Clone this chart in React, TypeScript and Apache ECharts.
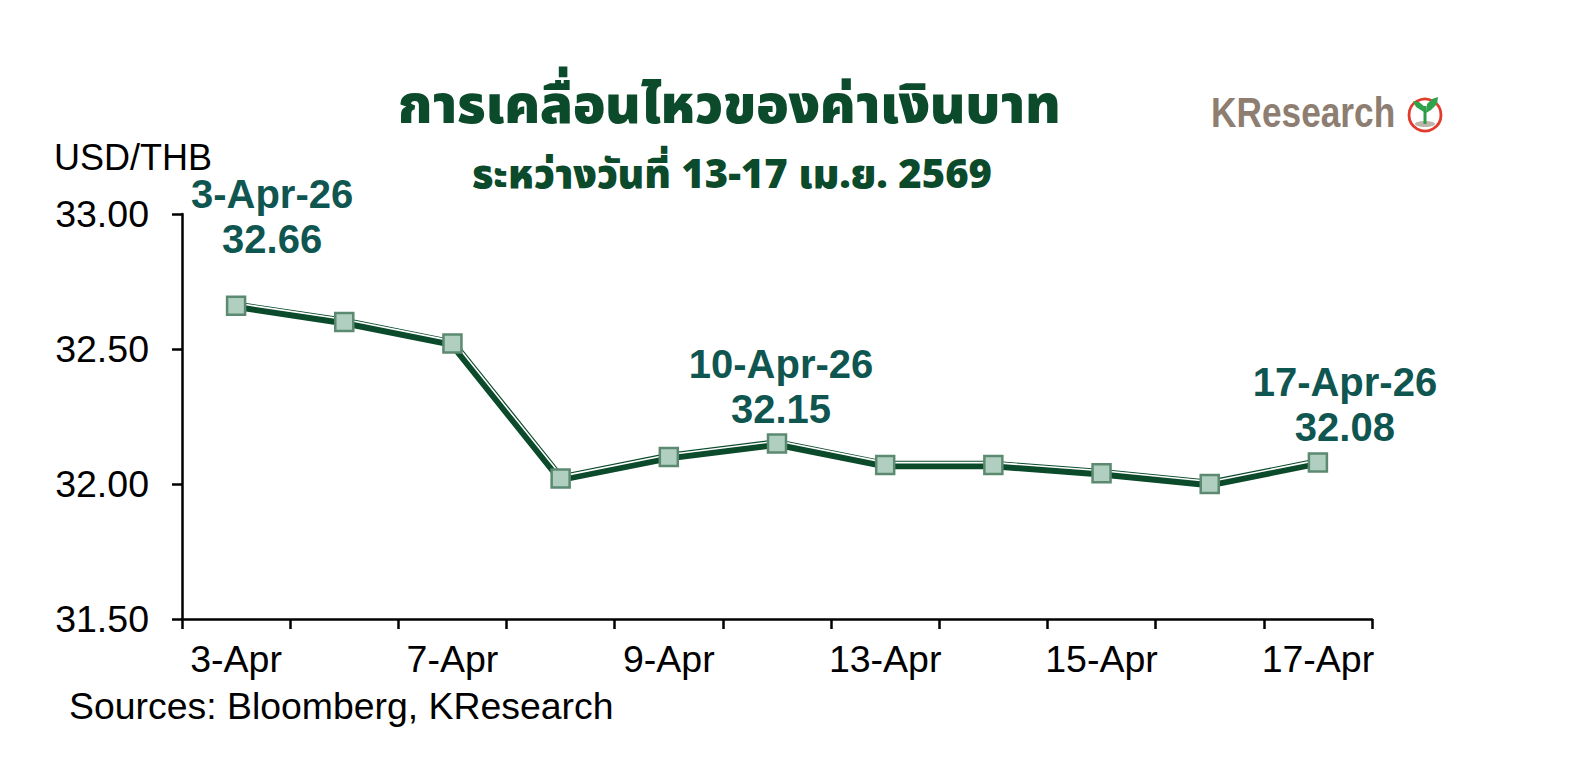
import React, { useEffect, useRef } from "react";
import * as echarts from "echarts";

const categories = ["3-Apr", "6-Apr", "7-Apr", "8-Apr", "9-Apr", "10-Apr", "13-Apr", "14-Apr", "15-Apr", "16-Apr", "17-Apr"];
const values = [32.66, 32.6, 32.52, 32.02, 32.1, 32.15, 32.07, 32.07, 32.04, 32.0, 32.08];
const yMin = 31.5;
const yMax = 33.0;
const yStep = 0.5;
const annotated = [0, 5, 10];
const annotationYear = "26";
const titleText = "การเคลื่อนไหวของค่าเงินบาท";
const subtitleText = "ระหว่างวันที่ 13-17 เม.ย. 2569";
const unitText = "USD/THB";
const sourceText = "Sources: Bloomberg, KResearch";
const brandText = "KResearch";

const DARK = "#0b4a2b";
const TEAL = "#0f5550";
const THAI_FONT = "'Noto Sans Thai', 'Noto Sans Thai UI', 'Noto Sans', Loma, Garuda, sans-serif";
const LATIN_FONT = "Arial, 'Liberation Sans', Helvetica, sans-serif";

const labelOffsets: Record<number, [number, number]> = {
  0: [36, -34],
  5: [4, -2],
  10: [27, -3],
};

export default function App() {
  const ref = useRef<HTMLDivElement>(null);
  useEffect(() => {
    if (!ref.current) return;
    const chart = echarts.init(ref.current, undefined, { renderer: "svg" });
    const markerData = values.map((v, i) => {
      if (!annotated.includes(i)) return v;
      return {
        value: v,
        label: {
          show: true,
          position: "top",
          distance: 0,
          offset: labelOffsets[i],
          formatter: (p: any) => `${p.name}-${annotationYear}\n${Number(p.value).toFixed(2)}`,
          fontFamily: LATIN_FONT,
          fontWeight: "bold",
          fontSize: 40,
          lineHeight: 45,
          color: TEAL,
          align: "center",
        },
      };
    });
    const option: any = {
      animation: false,
      backgroundColor: "#ffffff",
      grid: [
        { left: 182, right: 200, top: 214, bottom: 143, containLabel: false },
        { left: 183, right: 199, top: 211.5, bottom: 145.5, containLabel: false },
      ],
      xAxis: [
        {
          type: "category",
          gridIndex: 0,
          data: categories,
          boundaryGap: true,
          axisLine: { show: true, lineStyle: { color: "#000", width: 2.5 } },
          axisTick: { show: true, interval: 0, length: 10, lineStyle: { color: "#000", width: 2.5 } },
          axisLabel: {
            interval: 1,
            fontSize: 37.5,
            fontFamily: LATIN_FONT,
            color: "#000",
            margin: 21,
          },
          splitLine: { show: false },
        },
        {
          type: "category",
          gridIndex: 1,
          data: categories,
          boundaryGap: true,
          show: false,
        },
      ],
      yAxis: [
        {
          type: "value",
          gridIndex: 0,
          min: yMin,
          max: yMax,
          interval: yStep,
          axisLine: { show: true, lineStyle: { color: "#000", width: 2.5 } },
          axisTick: { show: true, length: 10, lineStyle: { color: "#000", width: 2.5 } },
          axisLabel: {
            fontSize: 37.5,
            fontFamily: LATIN_FONT,
            color: "#000",
            margin: 33,
            formatter: (v: number) => v.toFixed(2),
          },
          splitLine: { show: false },
        },
        {
          type: "value",
          gridIndex: 1,
          min: yMin,
          max: yMax,
          interval: yStep,
          show: false,
        },
      ],
      series: [
        {
          type: "line",
          xAxisIndex: 0,
          yAxisIndex: 0,
          data: values,
          showSymbol: false,
          symbol: "none",
          lineStyle: { color: DARK, width: 8.5, join: "round" },
          z: 2,
        },
        {
          type: "line",
          xAxisIndex: 1,
          yAxisIndex: 1,
          data: values,
          showSymbol: false,
          symbol: "none",
          lineStyle: { color: "#ffffff", width: 1.6 },
          z: 3,
        },
        {
          type: "line",
          xAxisIndex: 0,
          yAxisIndex: 0,
          data: markerData,
          symbol: "rect",
          symbolSize: 18,
          showSymbol: true,
          lineStyle: { width: 0, opacity: 0 },
          itemStyle: { color: "#b1cfc1", borderColor: "#5b8a70", borderWidth: 2.5 },
          z: 4,
        },
      ],
      graphic: [
        {
          type: "text",
          x: 729,
          y: 106,
          style: {
            text: titleText,
            fontFamily: THAI_FONT,
            fontWeight: 900,
            fontSize: 53.5,
            fill: DARK,
            align: "center",
            verticalAlign: "middle",
          },
        },
        {
          type: "text",
          x: 732,
          y: 176,
          style: {
            text: subtitleText,
            fontFamily: THAI_FONT,
            fontWeight: 900,
            fontSize: 40,
            fill: DARK,
            align: "center",
            verticalAlign: "middle",
          },
        },
        {
          type: "text",
          x: 54,
          y: 157,
          style: {
            text: unitText,
            fontFamily: LATIN_FONT,
            fontSize: 36,
            fill: "#000",
            align: "left",
            verticalAlign: "middle",
          },
        },
        {
          type: "text",
          x: 69,
          y: 706,
          style: {
            text: sourceText,
            fontFamily: LATIN_FONT,
            fontSize: 37.4,
            fill: "#000",
            align: "left",
            verticalAlign: "middle",
          },
        },
        {
          type: "text",
          x: 1211,
          y: 112,
          scaleX: 0.84,
          style: {
            text: brandText,
            fontFamily: LATIN_FONT,
            fontWeight: "bold",
            fontSize: 42,
            fill: "#8d7e71",
            align: "left",
            verticalAlign: "middle",
          },
        },
        {
          type: "circle",
          shape: { cx: 1425, cy: 115, r: 16 },
          style: { fill: "#ffffff", stroke: "#e33a2c", lineWidth: 2.8 },
        },
        {
          type: "ellipse",
          shape: { cx: 1425, cy: 124, rx: 10, ry: 3 },
          style: { fill: "#bdb4ab" },
        },
        {
          type: "rect",
          shape: { x: 1423.5, y: 106, width: 3, height: 18 },
          style: { fill: "#2f9a48" },
        },
        {
          type: "polygon",
          shape: { points: [[1424, 112], [1416, 107], [1413, 101], [1419, 102], [1425, 107]] },
          style: { fill: "#2fa24c" },
        },
        {
          type: "polygon",
          shape: { points: [[1426, 113], [1427, 104], [1432, 99], [1438, 97], [1437, 104], [1431, 110]] },
          style: { fill: "#2fa24c" },
        },
      ],
    };
    chart.setOption(option);
    return () => chart.dispose();
  }, []);
  return <div ref={ref} style={{ position: "fixed", left: 0, top: 0, width: 1572, height: 762 }} />;
}
